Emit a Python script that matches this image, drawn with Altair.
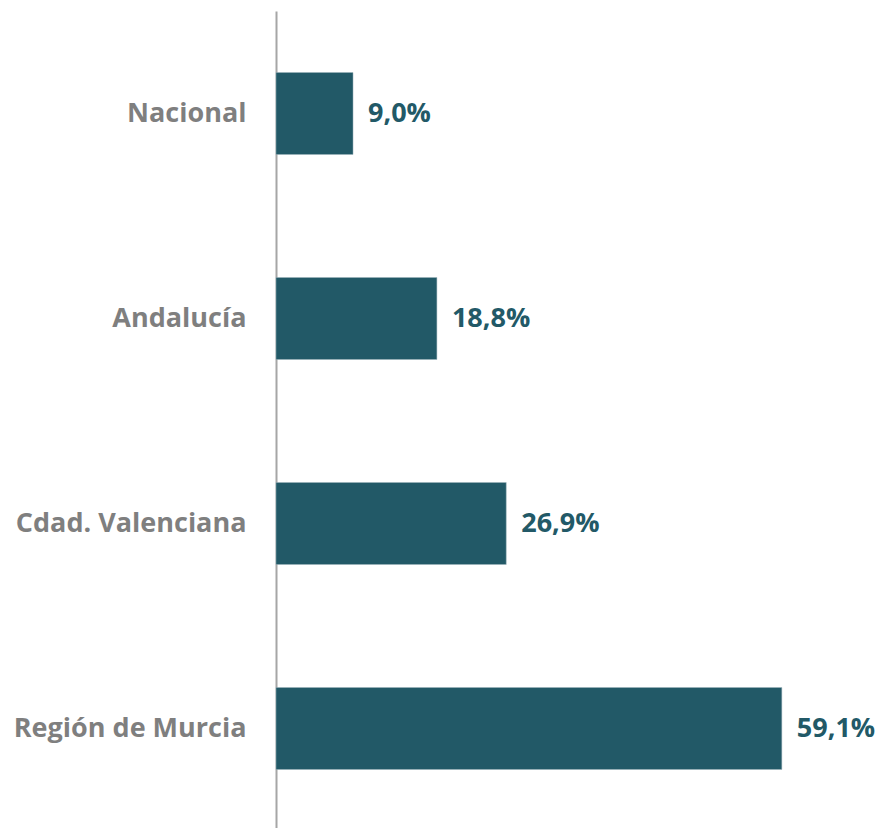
import altair as alt
import pandas as pd

categories = ["Nacional", "Andalucía", "Cdad. Valenciana", "Región de Murcia"]
values = [9.0, 18.8, 26.9, 59.1]
labels = ["9,0%", "18,8%", "26,9%", "59,1%"]

df = pd.DataFrame({"cat": categories, "val": values, "lab": labels})

y = alt.Y("cat:N", sort=categories, title=None,
          scale=alt.Scale(paddingInner=0.6, paddingOuter=0.3),
          axis=alt.Axis(domainColor="#a6a6a6", domainWidth=2, ticks=False,
                        labelColor="#7f7f7f", labelFont="Open Sans", labelFontSize=27,
                        labelFontWeight="bold", labelPadding=30, labelLimit=400))
x = alt.X("val:Q", title=None, scale=alt.Scale(domain=[0, 68]), axis=None)

bars = alt.Chart(df).mark_bar(color="#225967", stroke="#9fb5bc", strokeWidth=0.5).encode(x=x, y=y)
text = alt.Chart(df).mark_text(align="left", baseline="middle", dx=15, font="Open Sans",
                               fontSize=27, fontWeight="bold", color="#225967").encode(
    x=x, y=alt.Y("cat:N", sort=categories), text="lab:N")

chart = (bars + text).properties(
    width=582, height=820,
    autosize=alt.AutoSizeParams(type="none"),
    padding={"left": 268, "top": 3, "right": 17, "bottom": 0},
).configure_view(stroke=None)

chart.save("out.html", embed_options={"renderer": "svg", "actions": False})
